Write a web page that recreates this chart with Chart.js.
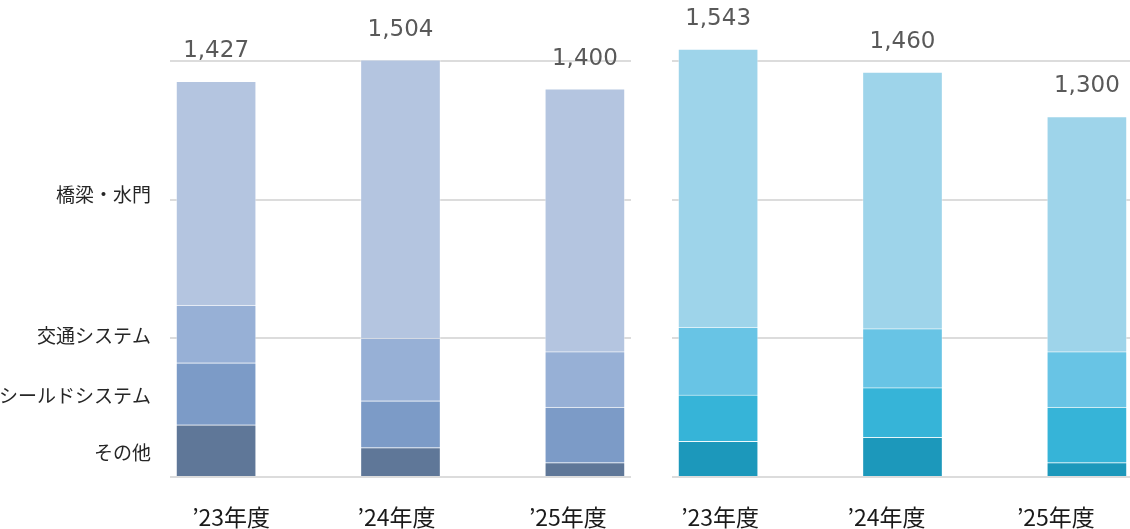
<!DOCTYPE html>
<html lang="ja">
<head>
<meta charset="utf-8">
<title>受注高 セグメント別</title>
<script src="https://cdn.jsdelivr.net/npm/chart.js@4/dist/chart.umd.min.js"></script>
<style>
  html, body { margin: 0; padding: 0; background: #fff; overflow: hidden; }
  #wrap { position: relative; width: 1130px; height: 529px; }
  #chart-left  { position: absolute; left: 0;     top: 0; }
  #chart-right { position: absolute; left: 650px; top: 0; }
</style>
</head>
<body>
<div id="wrap">
  <canvas id="chart-left" width="650" height="529"></canvas>
  <canvas id="chart-right" width="480" height="529"></canvas>
</div>
<script>
// ----- data -----
const years = ['’23年度', '’24年度', '’25年度'];
const segments = ['その他', 'シールドシステム', '交通システム', '橋梁・水門'];

// left group (stack bottom -> top)
const leftOther   = [188, 106, 52];
const leftShield  = [224, 169, 200];
const leftTraffic = [208, 226, 200];
const leftBridge  = [807, 1003, 948];
const leftTotals  = [1427, 1504, 1400];

// right group
const rightOther   = [129, 143, 52];
const rightShield  = [167, 179, 200];
const rightTraffic = [245, 213, 200];
const rightBridge  = [1002, 925, 848];
const rightTotals  = [1543, 1460, 1300];

const yTicks = [0, 500, 1000, 1500];

// ----- styles -----
const leftColors  = ['#5f7798', '#7c9bc7', '#97b0d6', '#b4c5e0'];
const rightColors = ['#1c98bb', '#36b4d8', '#68c4e5', '#9ed4ea'];
const UNIT_PX = 184.4;          // px per category step
const labelShiftLeft  = [15, -4, -17];   // year labels are not centred under bars
const labelShiftRight = [2, -16, -31];
const JP_FONT = '"Noto Sans CJK JP", "Noto Sans", sans-serif';

function buildDatasets(series, colors) {
  return series.map((vals, k) => ({
    label: segments[k],
    data: vals.map((v, i) => ({ x: i, y: v })),
    backgroundColor: colors[k],
    borderColor: 'rgba(255,255,255,0.35)',
    borderWidth: 1,
    barThickness: 80,
    clip: false
  }));
}

// totals above each stack
const totalsPlugin = {
  id: 'totals',
  afterDatasetsDraw(chart, args, opts) {
    const ctx = chart.ctx;
    const top = chart.getDatasetMeta(chart.data.datasets.length - 1);
    ctx.save();
    ctx.font = '23px "DejaVu Sans", Verdana, sans-serif';
    ctx.fillStyle = '#595959';
    ctx.textAlign = 'center';
    ctx.textBaseline = 'middle';
    top.data.forEach((bar, i) => {
      ctx.fillText(opts.totals[i].toLocaleString('en-US'), bar.x, bar.y - 30);
    });
    ctx.restore();
  }
};

// segment names beside the first bar of the left group
const segmentLabels = {
  id: 'segmentLabels',
  afterDatasetsDraw(chart, args, opts) {
    if (!opts.show) return;
    const ctx = chart.ctx;
    ctx.save();
    ctx.font = '19px ' + JP_FONT;
    ctx.fillStyle = '#262626';
    ctx.textAlign = 'right';
    ctx.textBaseline = 'middle';
    chart.data.datasets.forEach((ds, k) => {
      const bar = chart.getDatasetMeta(k).data[0];
      ctx.fillText(ds.label, chart.chartArea.left - 19, (bar.y + bar.base) / 2 + 2);
    });
    ctx.restore();
  }
};

function makeChart(id, series, colors, totals, shifts, padLeft, padRight, showSegments) {
  const canvas = document.getElementById(id);
  const plotWidth = canvas.width - padLeft - padRight;
  return new Chart(canvas, {
    type: 'bar',
    data: { datasets: buildDatasets(series, colors) },
    plugins: [totalsPlugin, segmentLabels],
    options: {
      responsive: false,
      animation: false,
      layout: { padding: { left: padLeft, right: padRight, top: 61, bottom: 0 } },
      plugins: {
        legend: { display: false },
        tooltip: { enabled: false },
        totals: { totals },
        segmentLabels: { show: showSegments }
      },
      scales: {
        x: {
          type: 'linear',
          stacked: true,
          offset: false,
          min: -0.25,
          max: -0.25 + plotWidth / UNIT_PX,
          grid: { display: false, drawTicks: false, offset: false },
          border: { display: false },
          afterBuildTicks: (s) => { s.ticks = years.map((_, i) => ({ value: i + shifts[i] / UNIT_PX })); },
          afterFit: (s) => { s.height = 52; },
          ticks: {
            autoSkip: false,
            maxRotation: 0,
            padding: 26,
            color: '#1a1a1a',
            font: { family: JP_FONT, size: 23 },
            callback: (v, i) => years[i]
          }
        },
        y: {
          stacked: true,
          min: 0,
          max: 1500,
          afterBuildTicks: (s) => { s.ticks = yTicks.map(v => ({ value: v })); },
          afterFit: (s) => { s.width = 0; },
          grid: { color: '#dcdcdc', lineWidth: 2, drawTicks: false },
          border: { display: false },
          ticks: { display: false }
        }
      }
    }
  });
}

makeChart('chart-left',
  [leftOther, leftShield, leftTraffic, leftBridge],
  leftColors, leftTotals, labelShiftLeft, 170, 19, true);

makeChart('chart-right',
  [rightOther, rightShield, rightTraffic, rightBridge],
  rightColors, rightTotals, labelShiftRight, 22, 0, false);
</script>
</body>
</html>
